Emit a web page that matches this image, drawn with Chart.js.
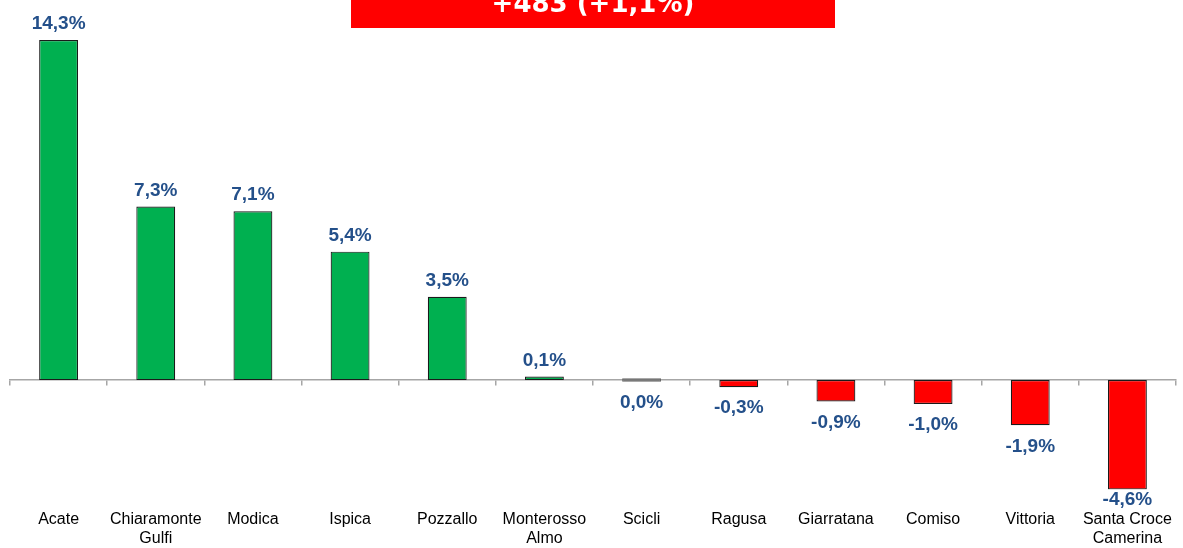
<!DOCTYPE html>
<html>
<head>
<meta charset="utf-8">
<script src="https://cdn.jsdelivr.net/npm/chart.js@4/dist/chart.umd.min.js"></script>
<style>
  html, body { margin: 0; padding: 0; background: #fff; }
  #wrap { position: relative; width: 1183px; height: 548px; }
</style>
</head>
<body>
<div id="wrap"><canvas id="chart"></canvas></div>
<script>
// chart data
const comuni = ['Acate', ['Chiaramonte', 'Gulfi'], 'Modica', 'Ispica', 'Pozzallo', ['Monterosso', 'Almo'],
  'Scicli', 'Ragusa', 'Giarratana', 'Comiso', 'Vittoria', ['Santa Croce', 'Camerina']];
const variazioni = [14.3, 7.3, 7.1, 5.4, 3.5, 0.1, 0.0, -0.3, -0.9, -1.0, -1.9, -4.6];
const titolo = '+483 (+1,1%)';

const GREEN = '#00B050';
const RED = '#FF0000';
const LABEL_BLUE = '#24508A';

const fillColors = variazioni.map((v) => (v > 0 ? GREEN : v < 0 ? RED : '#666666'));
const edgeColors = variazioni.map((v) => (v === 0 ? '#666666' : '#1a1a1a'));

function fmt(v) {
  return v.toFixed(1).replace('.', ',') + '%';
}

// value labels above / below each bar
const valueLabels = {
  id: 'valueLabels',
  afterDatasetsDraw(chart) {
    const ctx = chart.ctx;
    const meta = chart.getDatasetMeta(0);
    ctx.save();
    ctx.font = 'bold 19px "Liberation Sans", Arial, sans-serif';
    ctx.fillStyle = LABEL_BLUE;
    ctx.textAlign = 'center';
    ctx.textBaseline = 'middle';
    meta.data.forEach((bar, i) => {
      const v = variazioni[i];
      let y;
      if (v > 0) {
        y = bar.y - 16;
      } else {
        y = Math.min(Math.max(bar.y, bar.base) + 21, 500);
      }
      ctx.fillText(fmt(v), bar.x, y);
    });
    ctx.restore();
  }
};

// red title box at the top (cut off like the original)
const titleBox = {
  id: 'titleBox',
  afterDraw(chart) {
    const ctx = chart.ctx;
    ctx.save();
    ctx.fillStyle = RED;
    ctx.fillRect(351, 0, 484, 28);
    ctx.fillStyle = '#ffffff';
    ctx.font = 'bold 26px "DejaVu Sans", Verdana, sans-serif';
    ctx.textAlign = 'center';
    ctx.textBaseline = 'alphabetic';
    ctx.fillText(titolo, 593, 12);
    ctx.restore();
  }
};

new Chart(document.getElementById('chart'), {
  type: 'bar',
  data: {
    labels: comuni,
    datasets: [{
      data: variazioni,
      backgroundColor: fillColors,
      borderColor: edgeColors,
      borderWidth: 1.2,
      borderSkipped: false,
      minBarLength: 3.5,
      categoryPercentage: 1,
      barPercentage: 0.4
    }]
  },
  options: {
    responsive: true,
    maintainAspectRatio: false,
    animation: false,
    layout: { padding: { top: 40, left: 10, right: 7, bottom: 0 } },
    plugins: {
      legend: { display: false },
      tooltip: { enabled: false }
    },
    scales: {
      y: {
        display: false,
        min: -4.6,
        max: 14.3
      },
      x: {
        position: 'bottom',
        offset: true,
        grid: { display: false },
        border: { display: false },
        ticks: {
          color: '#000',
          padding: 12,
          maxRotation: 0,
          autoSkip: false,
          font: { family: '"Liberation Sans", Arial, sans-serif', size: 16, lineHeight: 1.2 }
        },
        afterFit(scale) {
          scale.height = 58.5;
          scale.paddingLeft = 0;
          scale.paddingRight = 0;
        }
      },
      x2: {
        type: 'category',
        position: { y: 0 },
        offset: true,
        grid: {
          offset: true,
          drawOnChartArea: false,
          drawTicks: true,
          tickLength: 5,
          color: '#a6a6a6',
          lineWidth: 1.5
        },
        border: { display: true, color: '#a6a6a6', width: 1.5 },
        ticks: { display: false }
      }
    }
  },
  plugins: [valueLabels, titleBox]
});
</script>
</body>
</html>
